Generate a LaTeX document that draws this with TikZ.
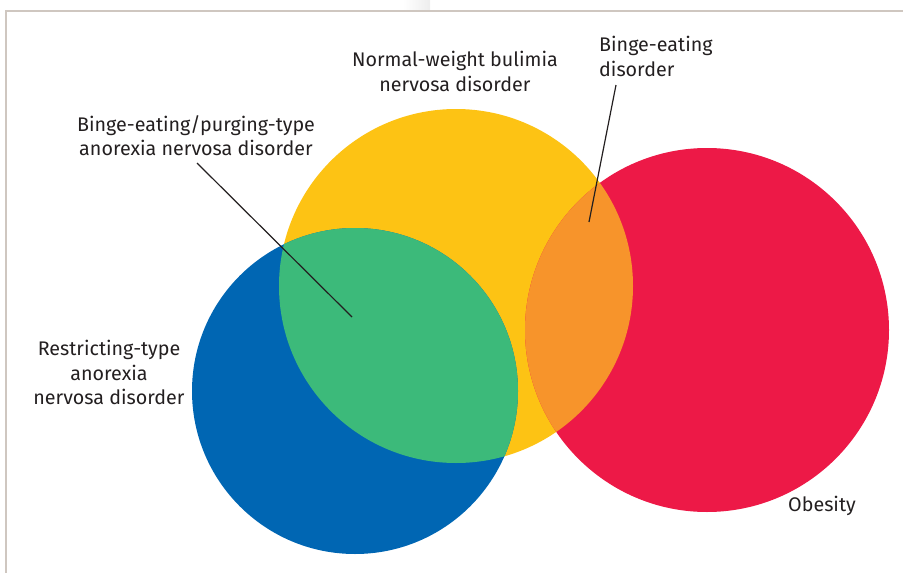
\documentclass[tikz,border=0pt]{standalone}
\usepackage{fontspec}
\setmainfont{Fira Sans}
\definecolor{cyellow}{RGB}{253,195,20}
\definecolor{cred}{RGB}{237,25,71}
\definecolor{cblue}{RGB}{0,102,179}
\definecolor{cgreen}{RGB}{60,186,122}
\definecolor{corange}{RGB}{247,148,43}
\definecolor{ctext}{RGB}{35,31,32}
\definecolor{cframe}{RGB}{207,199,192}
\tikzset{
  lbl/.style={text=ctext, inner sep=0pt, font=\fontsize{19.7}{24.5}\selectfont},
  leader/.style={draw=ctext, line width=1.2pt},
}
\begin{document}
\begin{tikzpicture}[x=1pt,y=-1pt]
\useasboundingbox (0,0) rectangle (903,573);
% frame
\shade[left color=white, right color=black!7] (403,0) rectangle (430,10);
\draw[cframe, line width=2.5pt] (6,573) -- (6,10.8) -- (903,10.8);
% circles
\fill[cyellow] (456,286) circle [radius=177];
\fill[cblue] (355,391) circle [radius=163];
\fill[cred] (707,330) circle [radius=182];
\begin{scope}
  \clip (355,391) circle [radius=163];
  \fill[cgreen] (456,286) circle [radius=177];
\end{scope}
\begin{scope}
  \clip (707,330) circle [radius=182];
  \fill[corange] (456,286) circle [radius=177];
\end{scope}
% labels
\node[lbl, anchor=north, align=center] (nw) at (455,51) {Normal-weight bulimia\\nervosa disorder};
\node[lbl, anchor=north west, align=left] (be) at (599,36) {Binge-eating\\disorder};
\node[lbl, anchor=north, align=center] (bp) at (196,115) {Binge-eating/purging-type\\anorexia nervosa disorder};
\node[lbl, anchor=north, align=center] (rt) at (109,340) {Restricting-type\\anorexia\\nervosa disorder};
\node[lbl, anchor=base west] (ob) at (788,511) {Obesity};
% leaders
\coordinate (bpEnd) at (352,317);
\coordinate (bpStart) at (197,163);
\coordinate (beStart) at (616,85);
\coordinate (beEnd) at (589,222);
\draw[leader] (bpStart) -- (bpEnd);
\draw[leader] (beStart) -- (beEnd);
\end{tikzpicture}
\end{document}
